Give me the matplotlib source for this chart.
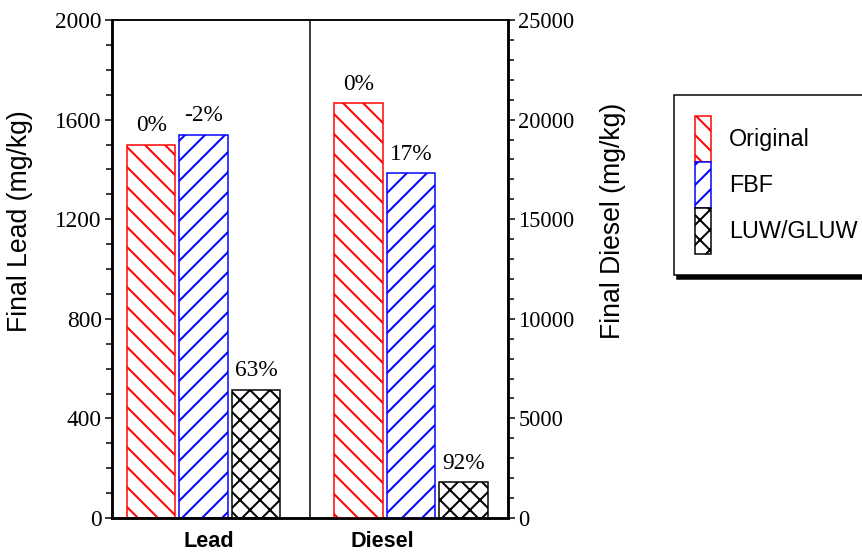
import matplotlib.pyplot as plt
from matplotlib.ticker import MultipleLocator

# datos
grupos = ['Lead', 'Diesel']
series = ['Original', 'FBF', 'LUW/GLUW']
lead_vals = [1500, 1540, 515]
diesel_vals = [20830, 17300, 1800]
lead_pct = ['0%', '-2%', '63%']
diesel_pct = ['0%', '17%', '92%']

colores = ['#ff0000', '#0000ff', '#000000']
tramas = ['\\\\', '//', 'xx']

plt.rcParams['hatch.linewidth'] = 1.2
sans = 'Liberation Sans'
serif = 'Liberation Serif'

fig = plt.figure(figsize=(862 / 120, 553 / 120), dpi=120)
ax = fig.add_axes([112 / 862, 1 - 518 / 553, 396 / 862, 498 / 553])
ax2 = ax.twinx()

centros = [0.463, 1.51]
desp = [-0.265, 0, 0.265]
ancho = 0.245

barras = []
for i in range(3):
    b = ax.bar(centros[0] + desp[i], lead_vals[i], ancho, color='white',
               edgecolor=colores[i], hatch=tramas[i], linewidth=0.9, label=series[i])
    barras.append(b)
    ax.annotate(lead_pct[i], (centros[0] + desp[i], lead_vals[i]), xytext=(0, 5),
                textcoords='offset points', ha='center', va='bottom',
                fontsize=14, family=serif)
    ax2.bar(centros[1] + desp[i], diesel_vals[i], ancho, color='white',
            edgecolor=colores[i], hatch=tramas[i], linewidth=0.9)
    ax2.annotate(diesel_pct[i], (centros[1] + desp[i], diesel_vals[i]), xytext=(0, 5),
                 textcoords='offset points', ha='center', va='bottom',
                 fontsize=14, family=serif)

ax.set_xlim(0, 2)
ax.set_ylim(0, 2000)
ax2.set_ylim(0, 25000)
ax.axvline(1.0, color='black', linewidth=0.9)

ax.yaxis.set_major_locator(MultipleLocator(400))
ax.yaxis.set_minor_locator(MultipleLocator(100))
ax2.yaxis.set_major_locator(MultipleLocator(5000))
ax2.yaxis.set_minor_locator(MultipleLocator(1000))

for a, tam in ((ax, 14), (ax2, 13.5)):
    a.tick_params(axis='y', which='major', length=4.2, width=0.9, direction='out',
                  labelsize=tam, pad=2)
    a.tick_params(axis='y', which='minor', length=3.5, width=0.9, direction='out')
    for lab in a.get_yticklabels():
        lab.set_family(serif)
    a.spines['left'].set_linewidth(1.5)
    a.spines['right'].set_linewidth(1.5)
    a.spines['bottom'].set_linewidth(1.5)
    a.spines['top'].set_linewidth(0.9)

ax.set_xticks([0.49, 1.364])
ax.set_xticklabels(grupos, fontsize=13, fontweight='bold', family=sans)
ax.tick_params(axis='x', length=0, pad=8)

ax.set_ylabel('Final Lead (mg/kg)', fontsize=16, family=sans)
ax2.set_ylabel('Final Diesel (mg/kg)', fontsize=16, family=sans)
ax.yaxis.set_label_coords(-0.2, 0.596)
ax2.yaxis.set_label_coords(1.232, 0.596)

leg = fig.legend(handles=barras, labels=series, loc='upper left',
                 bbox_to_anchor=(674 / 862, 1 - 95 / 553), borderaxespad=0,
                 prop={'family': sans, 'size': 14}, handlelength=0.69,
                 handleheight=2.66, labelspacing=0, handletextpad=0.77,
                 borderpad=0.9, fancybox=False, framealpha=1, edgecolor='black',
                 shadow={'color': 'black', 'alpha': 1})
leg.get_frame().set_linewidth(0.9)

fig.savefig('out.png', dpi=120)
